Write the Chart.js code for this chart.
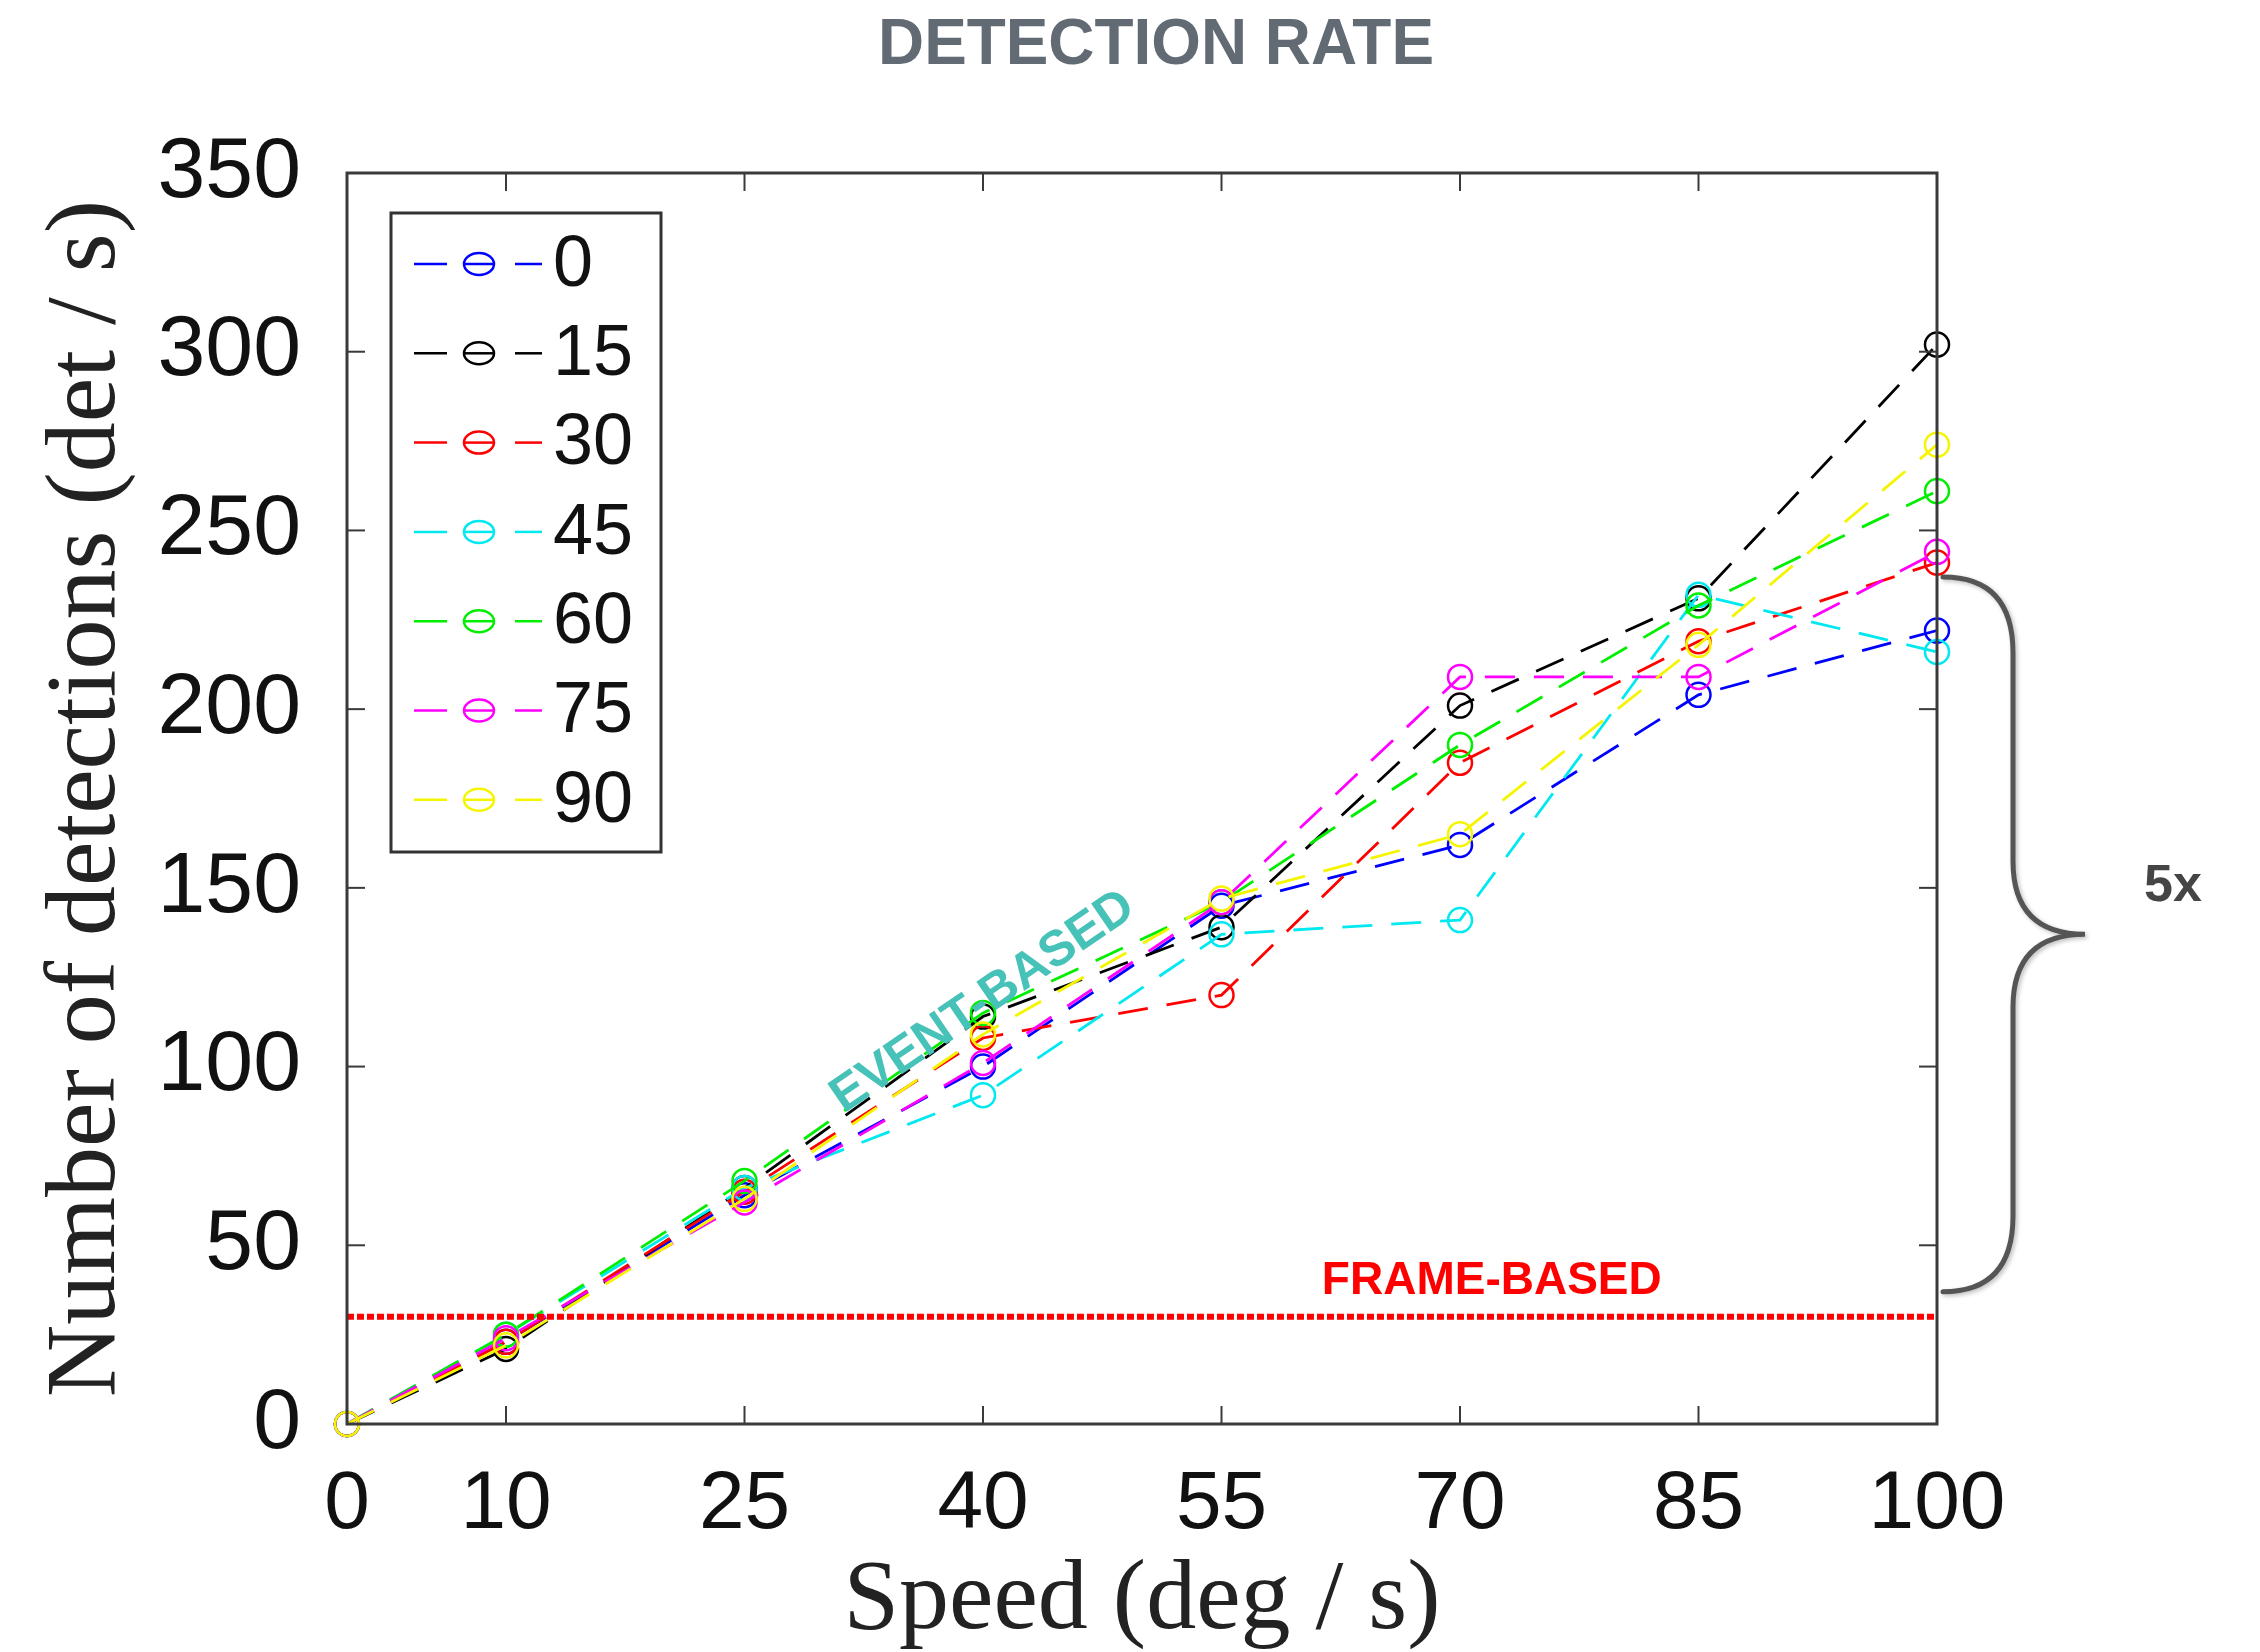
<!DOCTYPE html>
<html><head><meta charset="utf-8">
<script src="https://cdn.jsdelivr.net/npm/chart.js@4.4.1/dist/chart.umd.min.js"></script>
<style>html,body{margin:0;padding:0;background:#fff;overflow:hidden}#wrap{width:2260px;height:1652px;position:relative}</style>
</head><body><div id="wrap"><canvas id="c" width="2260" height="1652"></canvas></div>
<script>
// ---------- data ----------
const SPEEDS = [0, 10, 25, 40, 55, 70, 85, 100];
const X_TICKS = [0, 10, 25, 40, 55, 70, 85, 100];
const Y_TICKS = [0, 50, 100, 150, 200, 250, 300, 350];
const SERIES_NAMES = ['0', '15', '30', '45', '60', '75', '90'];
const SERIES_COLORS = ['#0000ff', '#000000', '#ff0000', '#00e8f0', '#00ee00', '#ff00ff', '#f5f500'];
const RATE_0  = [0, 23, 64, 100, 145, 162, 204, 222];
const RATE_15 = [0, 21, 66, 114, 139, 201, 231, 302];
const RATE_30 = [0, 23, 65, 108, 120, 185, 219, 241];
const RATE_45 = [0, 25, 66,  92, 137, 141, 232, 216];
const RATE_60 = [0, 25, 68, 115, 146, 190, 229, 261];
const RATE_75 = [0, 24, 62, 101, 146, 209, 209, 244];
const RATE_90 = [0, 22, 63, 109, 147, 165, 218, 274];
const FRAME_RATE = 30;
const BRACE_TOP = 237, BRACE_BOTTOM = 37;

const SERIES_VALUES = [RATE_0, RATE_15, RATE_30, RATE_45, RATE_60, RATE_75, RATE_90];

const datasets = SERIES_VALUES.map((vals, i) => ({
  label: SERIES_NAMES[i],
  data: SPEEDS.map((s, j) => ({x: s, y: vals[j]})),
  borderColor: SERIES_COLORS[i],
  backgroundColor: 'rgba(0,0,0,0)',
  pointBorderColor: SERIES_COLORS[i],
  pointBackgroundColor: 'rgba(0,0,0,0)',
  pointRadius: 12,
  pointBorderWidth: 2.5,
  borderWidth: 2.8,
  borderDash: [30, 19],
  tension: 0,
  clip: false,
  order: 10 - i
}));
datasets.push({
  label: 'FRAME-BASED', isRef: true,
  data: [{x: SPEEDS[0], y: FRAME_RATE}, {x: SPEEDS[SPEEDS.length - 1], y: FRAME_RATE}],
  borderColor: '#ff0000', borderWidth: 6, borderDash: [7, 3],
  pointRadius: 0, clip: false, order: -1, backgroundColor: 'rgba(0,0,0,0)'
});

const SANS = "'Liberation Sans', Arial, sans-serif";
const SERIF = "'Liberation Serif', 'Times New Roman', serif";

const decor = {
  id: 'decor',
  afterDraw(chart) {
    const ctx = chart.ctx, a = chart.chartArea;
    const xs = chart.scales.x, ys = chart.scales.y;
    ctx.save();
    // frame
    ctx.setLineDash([]);
    ctx.strokeStyle = '#3a3a3a'; ctx.lineWidth = 3;
    ctx.strokeRect(a.left, a.top, a.right - a.left, a.bottom - a.top);
    // inward ticks
    ctx.lineWidth = 2;
    const TL = 18;
    X_TICKS.forEach(v => {
      const px = xs.getPixelForValue(v);
      ctx.beginPath(); ctx.moveTo(px, a.bottom); ctx.lineTo(px, a.bottom - TL); ctx.stroke();
      ctx.beginPath(); ctx.moveTo(px, a.top); ctx.lineTo(px, a.top + TL); ctx.stroke();
    });
    Y_TICKS.forEach(v => {
      const py = ys.getPixelForValue(v);
      ctx.beginPath(); ctx.moveTo(a.left, py); ctx.lineTo(a.left + TL, py); ctx.stroke();
      ctx.beginPath(); ctx.moveTo(a.right, py); ctx.lineTo(a.right - TL, py); ctx.stroke();
    });
    // title
    ctx.fillStyle = '#626a73';
    ctx.font = "bold 64px " + SANS;
    ctx.textAlign = 'center'; ctx.textBaseline = 'middle';
    ctx.fillText('DETECTION RATE', 1156, 46, 556);
    // axis titles
    ctx.fillStyle = '#222';
    ctx.font = "100px " + SERIF;
    ctx.fillText('Speed (deg / s)', (a.left + a.right) / 2, 1602);
    ctx.save();
    ctx.translate(88, (a.top + a.bottom) / 2);
    ctx.rotate(-Math.PI / 2);
    ctx.fillText('Number of detections (det / s)', 0, 0);
    ctx.restore();
    // EVENT-BASED
    ctx.save();
    ctx.translate(xs.getPixelForValue(40), ys.getPixelForValue(118));
    ctx.rotate(-34.3 * Math.PI / 180);
    ctx.fillStyle = '#47c2b9';
    ctx.font = "bold 50px " + SANS;
    ctx.fillText('EVENT-BASED', 0, 0);
    ctx.restore();
    // FRAME-BASED
    ctx.fillStyle = '#ff0000';
    ctx.font = "bold 46px " + SANS;
    ctx.fillText('FRAME-BASED', xs.getPixelForValue(72), ys.getPixelForValue(40));
    // brace
    const bt = ys.getPixelForValue(BRACE_TOP), bb = ys.getPixelForValue(BRACE_BOTTOM);
    const bm = (bt + bb) / 2;
    const x0 = a.right + 6, x1 = a.right + 76, x2 = a.right + 148;
    ctx.strokeStyle = '#555'; ctx.lineWidth = 5; ctx.lineCap = 'round';
    ctx.shadowColor = 'rgba(0,0,0,0.25)'; ctx.shadowBlur = 4; ctx.shadowOffsetX = 2; ctx.shadowOffsetY = 2;
    ctx.beginPath();
    ctx.moveTo(x0, bt);
    ctx.quadraticCurveTo(x1, bt, x1, bt + 76);
    ctx.lineTo(x1, bm - 73);
    ctx.quadraticCurveTo(x1, bm, x2, bm);
    ctx.quadraticCurveTo(x1, bm, x1, bm + 73);
    ctx.lineTo(x1, bb - 76);
    ctx.quadraticCurveTo(x1, bb, x0, bb);
    ctx.stroke();
    ctx.shadowColor = 'rgba(0,0,0,0)';
    ctx.fillStyle = '#454545';
    ctx.font = "bold 52px " + SANS;
    ctx.fillText('5x', a.right + 236, bm - 48);
    // legend
    const lx = a.left + 44, ly = a.top + 40, lw = 270, lh = 639;
    ctx.fillStyle = '#fff';
    ctx.fillRect(lx, ly, lw, lh);
    ctx.strokeStyle = '#333'; ctx.lineWidth = 3; ctx.lineCap = 'butt';
    ctx.strokeRect(lx, ly, lw, lh);
    const items = chart.data.datasets.filter(d => !d.isRef);
    items.forEach((d, i) => {
      const y = ly + 51 + i * 89.3;
      ctx.strokeStyle = d.borderColor; ctx.lineWidth = 2.5;
      [[23, 56], [73, 103], [124, 151]].forEach(seg => {
        ctx.beginPath(); ctx.moveTo(lx + seg[0], y); ctx.lineTo(lx + seg[1], y); ctx.stroke();
      });
      ctx.beginPath(); ctx.ellipse(lx + 88, y, 15, 11, 0, 0, Math.PI * 2); ctx.stroke();
      ctx.fillStyle = '#111';
      ctx.font = "72px " + SANS;
      ctx.textAlign = 'left';
      ctx.fillText(d.label, lx + 162, y + 2);
    });
    ctx.restore();
  }
};

new Chart(document.getElementById('c'), {
  type: 'line',
  data: { datasets },
  options: {
    responsive: false, animation: false, devicePixelRatio: 1,
    layout: { padding: { top: 173, right: 323, left: 0, bottom: 0 } },
    plugins: { legend: { display: false }, tooltip: { enabled: false }, title: { display: false } },
    scales: {
      x: {
        type: 'linear', min: 0, max: 100,
        afterBuildTicks: s => { s.ticks = X_TICKS.map(v => ({ value: v })); },
        afterFit: s => { s.height = 228; },
        grid: { display: false, drawTicks: false }, border: { display: false },
        ticks: { font: { family: SANS, size: 82 }, color: '#111', padding: 32, maxRotation: 0, autoSkip: false }
      },
      y: {
        type: 'linear', min: 0, max: 350,
        afterBuildTicks: s => { s.ticks = Y_TICKS.map(v => ({ value: v })); },
        afterFit: s => { s.width = 347; },
        grid: { display: false, drawTicks: false }, border: { display: false },
        ticks: { font: { family: SANS, size: 86 }, color: '#111', padding: 46, autoSkip: false }
      }
    }
  },
  plugins: [decor]
});
</script></body></html>
